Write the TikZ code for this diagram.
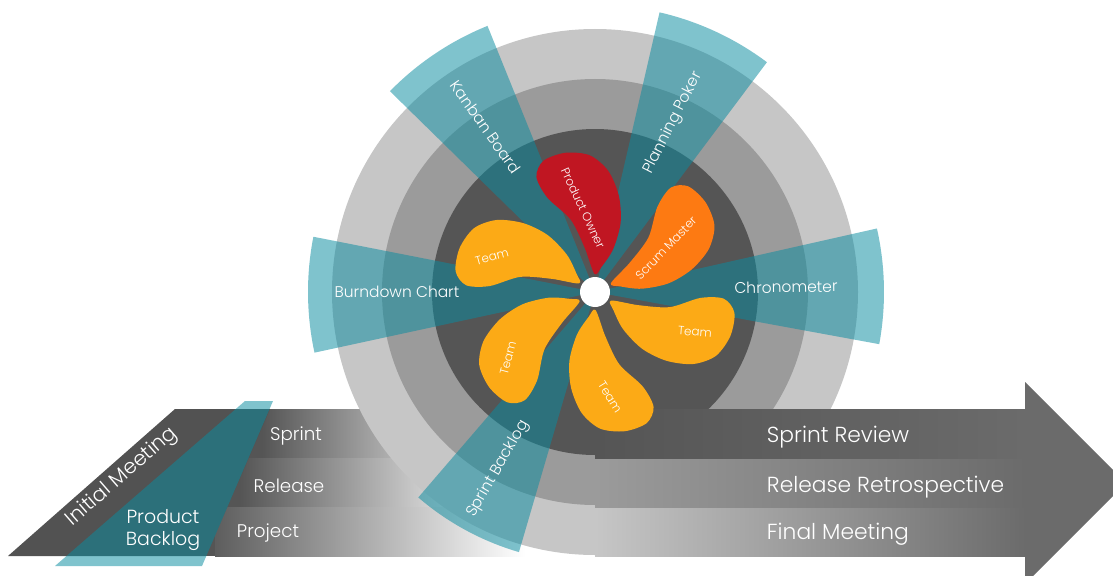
\documentclass[tikz,border=0pt]{standalone}
\usepackage{fontspec}
\setmainfont{Poppins}[UprightFont={* Light}]
\usepackage{tikz}
\usetikzlibrary{positioning}
\definecolor{ringlight}{RGB}{198,198,198}
\definecolor{ringmid}{RGB}{155,155,155}
\definecolor{ringdark}{RGB}{85,85,85}
\definecolor{darkband}{RGB}{82,82,82}
\definecolor{arrowgray}{RGB}{107,107,107}
\definecolor{raycol}{RGB}{10,140,160}
\definecolor{teamcol}{RGB}{252,170,22}
\definecolor{scrumcol}{RGB}{253,122,18}
\definecolor{ownercol}{RGB}{192,22,34}
\tikzstyle{ray} = [fill=raycol, fill opacity=0.52]
\tikzstyle{raytext} = [text=white, font=\fontsize{11}{13}\selectfont]
\tikzstyle{petaltext} = [text=white, font=\fontsize{8.5}{10}\selectfont]
\tikzstyle{lanetext} = [text=white, font=\fontsize{13}{15}\selectfont]
\tikzstyle{bigtext} = [text=white, font=\fontsize{15.5}{18}\selectfont]
\tikzstyle{backlogtext} = [text=white, font=\fontsize{13.5}{16}\selectfont]
\tikzstyle{initialtext} = [text=white, inner sep=0pt, font=\fontsize{14.5}{17}\selectfont]
\newcommand{\leaf}[2]{\fill[#1, rotate=#2] plot[smooth cycle] coordinates {(18,-2) (45,4) (75,14) (100,34) (122,42) (137,33) (142,10) (136,-14) (118,-30) (92,-37) (65,-35) (40,-24) (24,-10)};}

\begin{document}
\begin{tikzpicture}[x=0.025cm, y=0.025cm]
		\useasboundingbox (0,0) rectangle (1113,575);
		\clip (0,0) rectangle (1113,575);
		\fill[ringdark] (190,19) rectangle (270,166);
		\shade[left color=ringdark, right color=ringlight!92!black] (262,117) rectangle (400,166);
		\shade[left color=ringdark, right color=ringlight!50!white] (240,68) rectangle (455,117);
		\shade[left color=ringdark!95!white, right color=white] (215,19) rectangle (525,68);
		\fill[darkband] (8,19) -- (175,166) -- (270,166) -- (206,19) -- cycle;
		\fill[ringlight] (595,283) circle (263);
		\shade[left color=ringlight, right color=arrowgray] (595,19) rectangle (1026,68);
		\fill[ringmid] (595,283) circle (213);
		\shade[left color=ringmid, right color=arrowgray] (595,68) rectangle (1026,117);
		\fill[ringdark] (595,283) circle (163);
		\shade[left color=ringdark, right color=arrowgray] (595,117) rectangle (1026,166);
		\fill[arrowgray] (1025,193) -- (1126,92) -- (1025,-9) -- cycle;
		\begin{scope}[shift={(595,283)}]
			\fill[ray] (0,0) -- (112:287) arc[start angle=112, end angle=135.6, radius=287] -- cycle;
			\fill[ray] (0,0) -- (53.2:287) arc[start angle=53.2, end angle=77, radius=287] -- cycle;
			\fill[ray] (0,0) -- (-10.4:289) arc[start angle=-10.4, end angle=12.7, radius=289] -- cycle;
			\fill[ray] (0,0) -- (168.9:287) arc[start angle=168.9, end angle=192.2, radius=287] -- cycle;
			\fill[ray] (0,0) -- (229.3:271) arc[start angle=229.3, end angle=253.7, radius=271] -- cycle;
			\leaf{ownercol}{98}
			\leaf{scrumcol}{35}
			\leaf{teamcol}{-22}
			\leaf{teamcol}{-82}
			\leaf{teamcol}{-142}
			\leaf{teamcol}{158}
			\fill[white] (0,0) circle (15);
		\end{scope}
		\fill[ray] (55,9) -- (245,174) -- (273,174) -- (202,9) -- cycle;
		\node (kanban) [raytext, rotate=-55] at (486,448) {Kanban Board};
		\node (poker) [raytext, rotate=63] at (673,452) {Planning Poker};
		\node (chrono) [raytext, rotate=1] at (786,288) {Chronometer};
		\node (burndown) [raytext] at (397,283) {Burndown Chart};
		\node (sbacklog) [raytext, rotate=60] at (498,106) {Sprint Backlog};
		\node (owner) [petaltext, rotate=-65] at (583,367) {Product Owner};
		\node (scrum) [petaltext, rotate=46] at (666,327) {Scrum Master};
		\node (team1) [petaltext, rotate=15] at (492,318) {Team};
		\node (team2) [petaltext, rotate=-4] at (695,243) {Team};
		\node (team3) [petaltext, rotate=-58] at (610,178) {Team};
		\node (team4) [petaltext, rotate=75] at (508,217) {Team};
		\node (sprint) [lanetext] at (296,139) {Sprint};
		\node (release) [lanetext] at (289,89) {Release};
		\node (project) [lanetext] at (268,42) {Project};
		\node (review) [bigtext, anchor=west] at (762,138) {Sprint Review};
		\node (retro) [bigtext, anchor=west] at (762,88) {Release Retrospective};
		\node (final) [bigtext, anchor=west] at (762,41) {Final Meeting};
		\node (initial) [initialtext, rotate=41] at (122,98) {Initial Meeting};
		\node (pbacklog) [backlogtext, align=center] at (163,45) {Product\\Backlog};
\end{tikzpicture}
\end{document}
